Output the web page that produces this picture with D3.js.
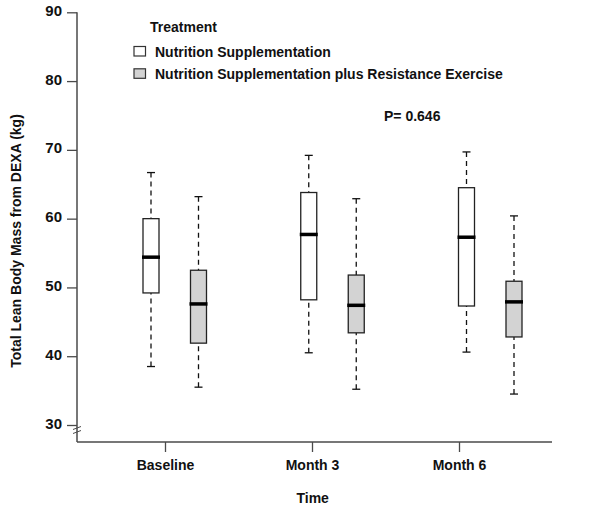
<!DOCTYPE html>
<html><head><meta charset="utf-8">
<script src="https://cdn.jsdelivr.net/npm/d3@7"></script>
<style>body{margin:0;background:#fff}svg{display:block}text{font-family:"Liberation Sans",Arial,sans-serif;font-weight:bold;fill:#111}</style>
</head><body><svg id="c" width="600" height="509"></svg>
<script>
const categories = ["Baseline", "Month 3", "Month 6"];
const seriesNames = ["Nutrition Supplementation", "Nutrition Supplementation plus Resistance Exercise"];
// [lowerWhisker, q1, median, q3, upperWhisker]
const nutrition = [[38.5, 49.2, 54.4, 60.0, 66.7], [40.5, 48.2, 57.7, 63.8, 69.2], [40.6, 47.3, 57.3, 64.5, 69.7]];
const nutritionExercise = [[35.5, 41.9, 47.6, 52.5, 63.2], [35.2, 43.4, 47.4, 51.8, 62.9], [34.5, 42.8, 47.9, 50.9, 60.4]];
const yTicks = [30, 40, 50, 60, 70, 80, 90];
const pText = "P= 0.646";

const svg = d3.select("#c");
const y = d3.scaleLinear().domain([30, 90]).range([425, 12.3]);
const xTick = d3.scalePoint().domain(categories).range([165, 459]);
const xBox = d3.scalePoint().domain(categories).range([151, 466.5]);
const offsets = [0, 47.5];
const fills = ["#ffffff", "#d3d3d3"];
const axisColor = "#4a4a4a";

// axes
const yAxis = svg.append("g").attr("transform", "translate(77,0)")
  .call(d3.axisLeft(y).tickValues(yTicks).tickSize(10).tickPadding(5));
yAxis.select(".domain").remove();
yAxis.selectAll(".tick line").attr("stroke", axisColor).attr("stroke-width", 1.3);
yAxis.selectAll(".tick text").style("font-size", "15px").attr("fill", "#111").attr("dy", "0.2em");
svg.append("line").attr("x1", 77).attr("x2", 77).attr("y1", 12.3).attr("y2", 442)
  .attr("stroke", axisColor).attr("stroke-width", 1.5);

const xAxis = svg.append("g").attr("transform", "translate(0,442)")
  .call(d3.axisBottom(xTick).tickSize(10).tickPadding(8));
xAxis.select(".domain").remove();
xAxis.selectAll(".tick line").attr("stroke", axisColor).attr("stroke-width", 1.3);
xAxis.selectAll(".tick text").style("font-size", "14px").attr("fill", "#111");
svg.append("line").attr("x1", 77).attr("x2", 552).attr("y1", 442).attr("y2", 442)
  .attr("stroke", axisColor).attr("stroke-width", 1.5);

// axis break marks
[428, 432].forEach(yy => {
  svg.append("line").attr("x1", 73).attr("x2", 81).attr("y1", yy + 1.5).attr("y2", yy - 1.5)
    .attr("stroke", axisColor).attr("stroke-width", 1);
});

// boxes
const bw = 16;
[nutrition, nutritionExercise].forEach((series, si) => {
  const g = svg.append("g");
  series.forEach((d, i) => {
    const cx = xBox(categories[i]) + offsets[si];
    const [lo, q1, med, q3, hi] = d;
    g.append("line").attr("x1", cx).attr("x2", cx).attr("y1", y(hi)).attr("y2", y(q3))
      .attr("stroke", "#111").attr("stroke-width", 1.3).attr("stroke-dasharray", "5,4");
    g.append("line").attr("x1", cx).attr("x2", cx).attr("y1", y(lo)).attr("y2", y(q1))
      .attr("stroke", "#111").attr("stroke-width", 1.3).attr("stroke-dasharray", "5,4");
    g.append("line").attr("x1", cx - 4).attr("x2", cx + 4).attr("y1", y(hi)).attr("y2", y(hi))
      .attr("stroke", "#111").attr("stroke-width", 1.3);
    g.append("line").attr("x1", cx - 4).attr("x2", cx + 4).attr("y1", y(lo)).attr("y2", y(lo))
      .attr("stroke", "#111").attr("stroke-width", 1.3);
    g.append("rect").attr("x", cx - bw / 2).attr("width", bw).attr("y", y(q3)).attr("height", y(q1) - y(q3))
      .attr("fill", fills[si]).attr("stroke", "#222").attr("stroke-width", 1.3);
    g.append("line").attr("x1", cx - bw / 2 - 1).attr("x2", cx + bw / 2 + 1).attr("y1", y(med)).attr("y2", y(med))
      .attr("stroke", "#000").attr("stroke-width", 3.5);
  });
});

// legend
svg.append("text").attr("x", 150).attr("y", 31.5).style("font-size", "14px").text("Treatment");
seriesNames.forEach((n, i) => {
  const yy = 51.5 + i * 22.3;
  svg.append("rect").attr("x", 134).attr("y", yy - 5).attr("width", 11.5).attr("height", 9.5)
    .attr("fill", fills[i]).attr("stroke", "#333").attr("stroke-width", 1.2);
  svg.append("text").attr("x", 155).attr("y", yy + 5).style("font-size", "14px").text(n);
});

svg.append("text").attr("x", 384).attr("y", 121).style("font-size", "14px").text(pText);

// axis titles
svg.append("text").attr("x", 312.7).attr("y", 503).attr("text-anchor", "middle").style("font-size", "14px").text("Time");
svg.append("text").attr("transform", "translate(21,241) rotate(-90)").attr("text-anchor", "middle")
  .style("font-size", "14px").text("Total Lean Body Mass from DEXA (kg)");
</script></body></html>
